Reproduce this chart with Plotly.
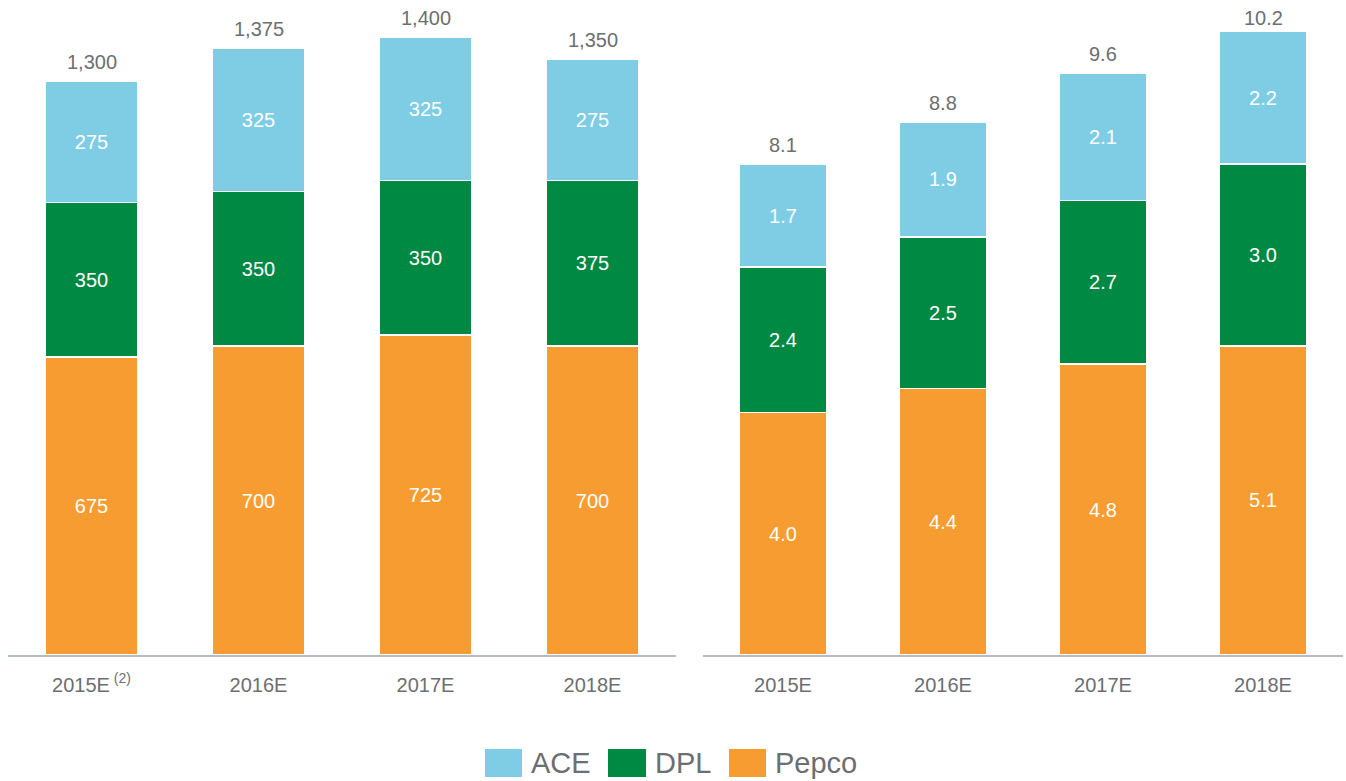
import plotly.graph_objects as go
from plotly.subplots import make_subplots

# 왼쪽 차트 데이터
years_left = ['2015E\u2009<sup>(2)</sup>', '2016E', '2017E', '2018E']
pepco_left = [675, 700, 725, 700]
dpl_left = [350, 350, 350, 375]
ace_left = [275, 325, 325, 275]

# 오른쪽 차트 데이터
years_right = ['2015E', '2016E', '2017E', '2018E']
pepco_right = [4.0, 4.4, 4.8, 5.1]
dpl_right = [2.4, 2.5, 2.7, 3.0]
ace_right = [1.7, 1.9, 2.1, 2.2]
totals_right = [8.1, 8.8, 9.6, 10.2]

series_names = ['ACE', 'DPL', 'Pepco']
colors = {'ACE': '#7ecde5', 'DPL': '#008942', 'Pepco': '#f79c31'}
gray = '#6d6e71'
font_family = 'Liberation Sans, Arial, sans-serif'

totals_left = [p + d + a for p, d, a in zip(pepco_left, dpl_left, ace_left)]

W, H = 1346, 781
T, B = 20, 126
plot_h = H - T - B

fig = make_subplots(rows=1, cols=2)

left_data = {'Pepco': pepco_left, 'DPL': dpl_left, 'ACE': ace_left}
right_data = {'Pepco': pepco_right, 'DPL': dpl_right, 'ACE': ace_right}

for name in ['Pepco', 'DPL', 'ACE']:
    fig.add_trace(go.Bar(x=years_left, y=left_data[name], name=name,
                         marker=dict(color=colors[name], line=dict(color='white', width=1.5)),
                         texttemplate='%{y:.0f}', textposition='inside',
                         insidetextanchor='middle', textangle=0,
                         insidetextfont=dict(color='white', size=20),
                         showlegend=False, hoverinfo='skip'), row=1, col=1)
    fig.add_trace(go.Bar(x=years_right, y=right_data[name], name=name,
                         marker=dict(color=colors[name], line=dict(color='white', width=1.5)),
                         texttemplate='%{y:.1f}', textposition='inside',
                         insidetextanchor='middle', textangle=0,
                         insidetextfont=dict(color='white', size=20),
                         showlegend=False, hoverinfo='skip'), row=1, col=2)

# 합계 라벨
for x, t in zip(years_left, totals_left):
    fig.add_annotation(x=x, y=t, xref='x', yref='y', text=f'{t:,}',
                       showarrow=False, yanchor='bottom', yshift=6,
                       font=dict(color=gray, size=20))
for x, t in zip(years_right, totals_right):
    fig.add_annotation(x=x, y=t, xref='x2', yref='y2', text=f'{t:.1f}',
                       showarrow=False, yanchor='bottom', yshift=6,
                       font=dict(color=gray, size=20))

axis_style = dict(showgrid=False, zeroline=False, showline=True,
                  linecolor='#b4bcc4', linewidth=1.5,
                  tickfont=dict(color=gray, size=20), ticks='',
                  ticklabelstandoff=11)
fig.update_xaxes(**axis_style)
fig.update_yaxes(visible=False, showgrid=False, zeroline=False)

fig.update_layout(
    barmode='stack', bargap=0.45,
    width=W, height=H,
    margin=dict(l=0, r=0, t=T, b=B),
    plot_bgcolor='white', paper_bgcolor='white',
    font=dict(family=font_family, color=gray),
    xaxis=dict(domain=[8 / W, 676 / W]),
    xaxis2=dict(domain=[703 / W, 1343 / W]),
    yaxis=dict(range=[0, 1438.5]),
    yaxis2=dict(range=[0, 10.48]),
)

# 범례 (큰 사각형)
legend_x = {'ACE': (485, 522), 'DPL': (608, 646), 'Pepco': (729, 766)}
base = H - B
for name in series_names:
    x0, x1 = legend_x[name]
    fig.add_shape(type='rect', xref='paper', yref='paper',
                  x0=x0 / W, x1=x1 / W,
                  y0=-(777 - base) / plot_h, y1=-(749 - base) / plot_h,
                  fillcolor=colors[name], line=dict(width=0))
    fig.add_annotation(x=(x1 + 7) / W, y=-(763 - base) / plot_h,
                       xref='paper', yref='paper', xanchor='left', yanchor='middle',
                       text=name, showarrow=False,
                       font=dict(size=29, color=gray))

# body 기본 여백 제거
fig.write_html('out.html', config={'displayModeBar': False},
               post_script="document.body.style.margin='0';")
